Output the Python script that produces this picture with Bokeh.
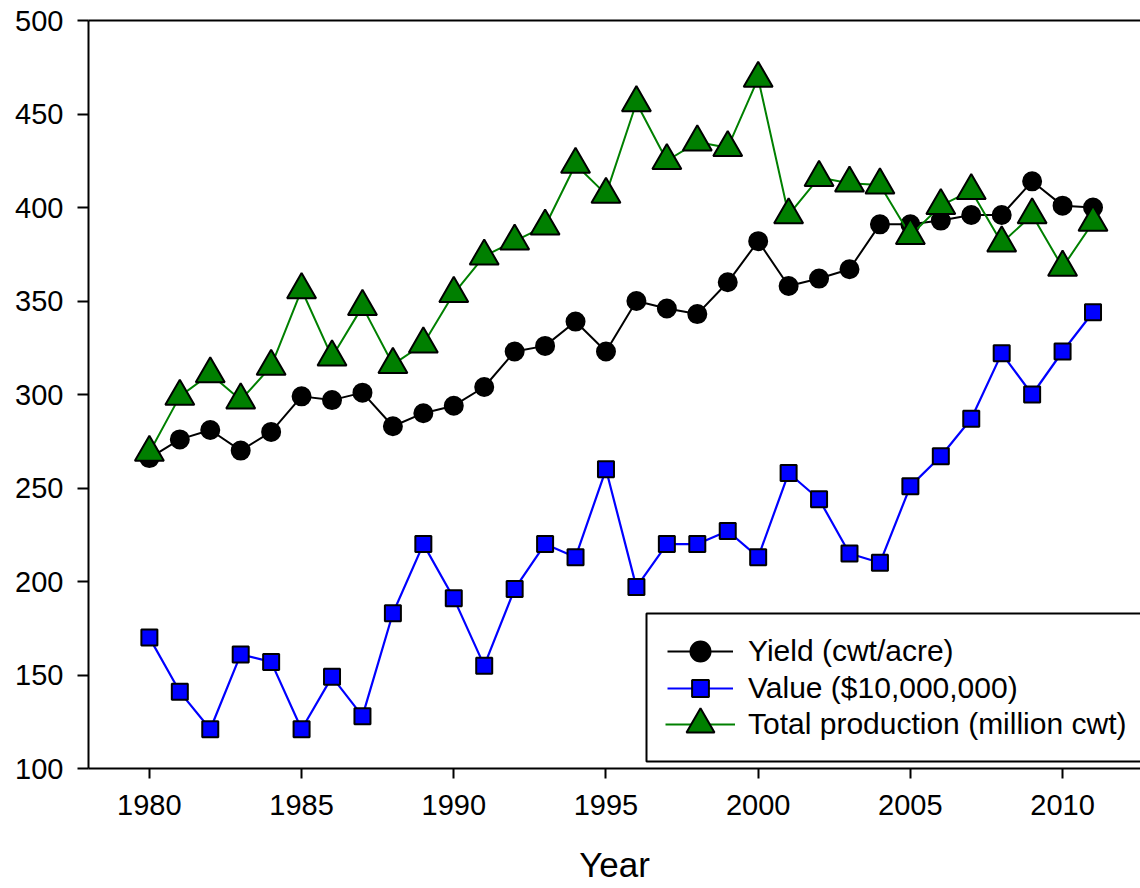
from bokeh.plotting import figure
from bokeh.models import (Range1d, LinearAxis, FixedTicker, SingleIntervalTicker,
                          Legend, LegendItem, BoxAnnotation)
from bokeh.embed import file_html
from bokeh.resources import INLINE

# ---- data ----
years = list(range(1980, 2012))
yield_cwt = [266, 276, 281, 270, 280, 299, 297, 301, 283, 290, 294, 304, 323, 326, 339, 323,
             350, 346, 343, 360, 382, 358, 362, 367, 391, 391, 393, 396, 396, 414, 401, 400]
value_10m = [170, 141, 121, 161, 157, 121, 149, 128, 183, 220, 191, 155, 196, 220, 213, 260,
             197, 220, 220, 227, 213, 258, 244, 215, 210, 251, 267, 287, 322, 300, 323, 344]
production = [269, 299, 311, 297, 315, 356, 320, 347, 316, 327, 354, 374, 382, 390, 423, 407,
              456, 425, 435, 432, 469, 396, 416, 413, 412, 385, 401, 409, 381, 396, 368, 392]
x_ticks = [1980, 1985, 1990, 1995, 2000, 2005, 2010]
labels = ["Yield (cwt/acre)", "Value ($10,000,000)", "Total production (million cwt)"]

FONT = "Liberation Sans"

p = figure(width=1140, height=888, output_backend="svg", toolbar_location=None,
           x_range=Range1d(1978.0, 2012.56), y_range=Range1d(100, 500),
           min_border_left=88, min_border_right=0, min_border_top=20, min_border_bottom=120,
           x_axis_label="Year")
p.outline_line_color = None
p.xgrid.visible = False
p.ygrid.visible = False
p.background_fill_color = "white"
p.border_fill_color = "white"

# axes
xa = p.xaxis[0]
xa.ticker = FixedTicker(ticks=x_ticks)
ya = p.yaxis[0]
ya.ticker = SingleIntervalTicker(interval=50)
for ax in (xa, ya):
    ax.axis_line_width = 2
    ax.axis_line_color = "black"
    ax.major_tick_line_width = 2
    ax.major_tick_line_color = "black"
    ax.major_tick_in = 0
    ax.minor_tick_line_color = None
    ax.major_label_text_font = FONT
    ax.major_label_text_font_size = "29px"
    ax.major_label_text_color = "black"
xa.major_tick_out = 10
xa.major_label_standoff = 16
xa.axis_label_text_font = FONT
xa.axis_label_text_font_size = "35px"
xa.axis_label_text_font_style = "normal"
xa.axis_label_text_color = "black"
xa.axis_label_standoff = 27
ya.major_tick_out = 11
ya.major_label_standoff = 14

# top border line (an axis without ticks or labels)
top = LinearAxis(ticker=FixedTicker(ticks=[]), axis_line_width=2, axis_line_color="black",
                 major_tick_line_color=None, minor_tick_line_color=None,
                 major_label_standoff=0, major_tick_out=0, major_tick_in=0)
p.add_layout(top, "above")

# series
l1 = p.line(years, yield_cwt, line_color="black", line_width=2)
s1 = p.scatter(years, yield_cwt, marker="circle", size=18, fill_color="black",
               line_color="black", line_width=2)
l2 = p.line(years, value_10m, line_color="#0000FF", line_width=2.2)
s2 = p.scatter(years, value_10m, marker="square", size=16, fill_color="#0000FF",
               line_color="black", line_width=2)
l3 = p.line(years, production, line_color="#008000", line_width=2)
s3 = p.scatter(years, production, marker="triangle", size=29, fill_color="#007F00",
               line_color="black", line_width=2)

# legend frame (screen units, relative to the plot frame's bottom-left)
box = BoxAnnotation(left=558, right=1200, bottom=7, top=155,
                    left_units="screen", right_units="screen",
                    bottom_units="screen", top_units="screen",
                    fill_color="white", fill_alpha=1,
                    line_color="black", line_width=2, line_alpha=1)
p.add_layout(box)

# one legend per row so each keeps its own marker size
rows = [
    (labels[0], [l1, s1], 66, 50, 15, (579, 92)),
    (labels[1], [l2, s2], 66, 42, 15, (579, 59)),
    (labels[2], [l3, s3], 70, 70, 13, (577, 9)),
]
for lab, rends, gw, gh, stand, loc in rows:
    lg = Legend(items=[LegendItem(label=lab, renderers=rends)],
                location=loc, margin=0, padding=0, spacing=0,
                glyph_width=gw, glyph_height=gh, label_height=gh, label_standoff=stand,
                label_text_font=FONT, label_text_font_size="30px", label_text_color="black",
                border_line_color=None, background_fill_alpha=0)
    p.add_layout(lg, "center")

open("out.html", "w").write(file_html(p, INLINE))
